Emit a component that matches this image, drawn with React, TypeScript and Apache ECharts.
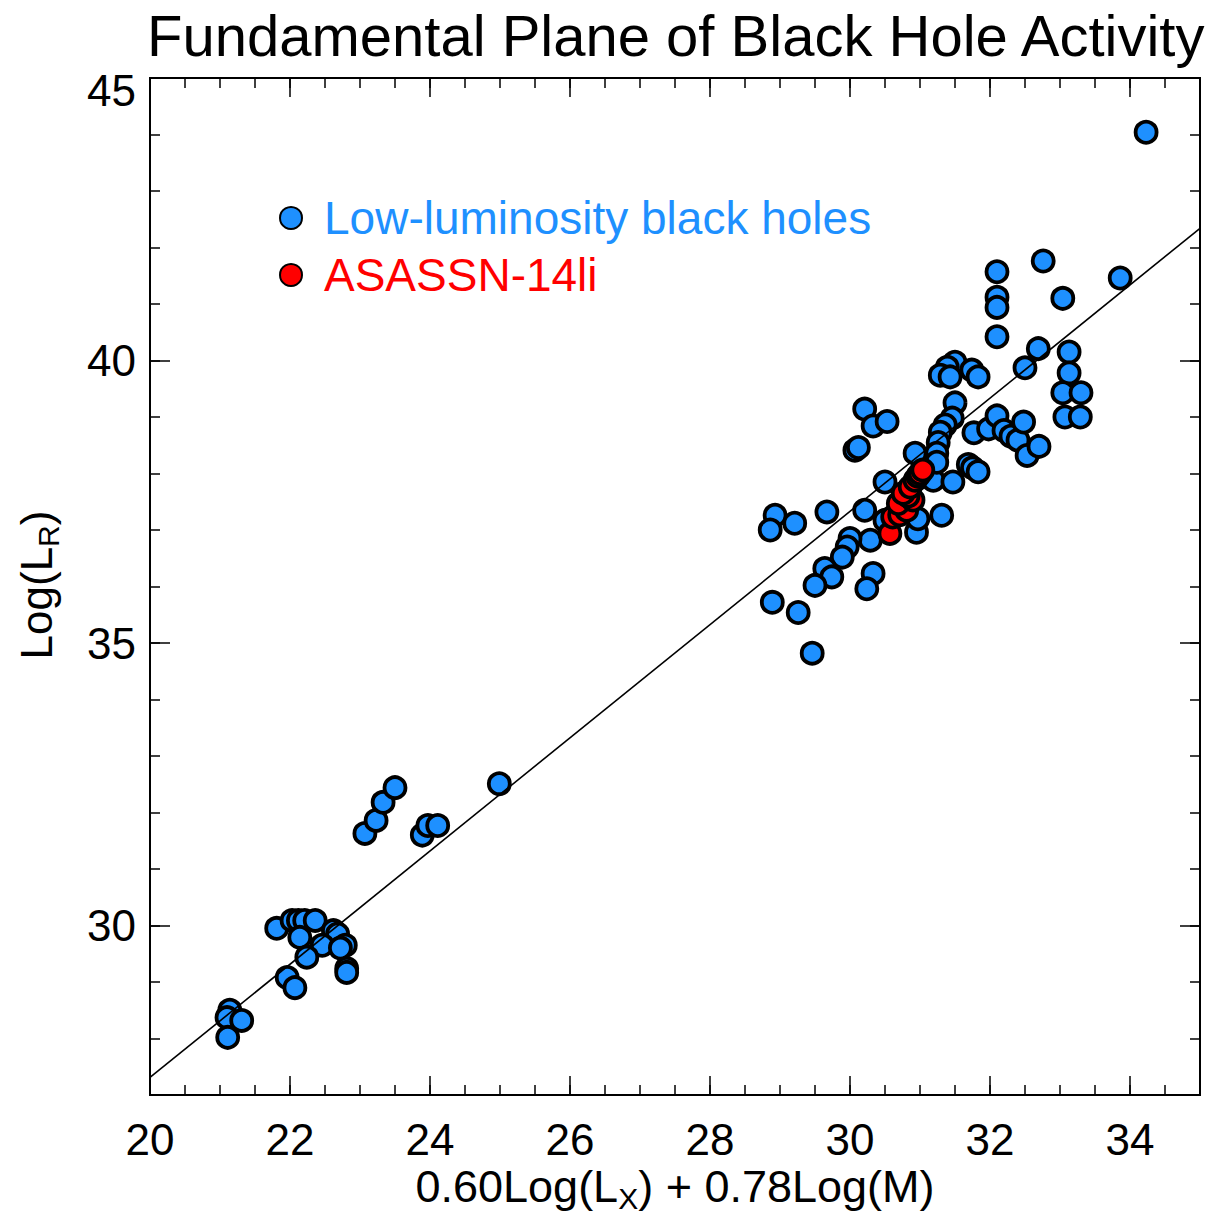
import React, { useEffect, useRef } from "react";
import * as echarts from "echarts";

const FONT = "Liberation Sans, Arial, Helvetica, sans-serif";
const BLUE = "#1E90FF";
const RED = "#FF0000";

const lowLuminosityPoints: number[][] = [
  [21.14, 28.5], [21.1, 28.37], [21.31, 28.32], [21.11, 28.02],
  [21.81, 29.95], [22.03, 30.09], [22.12, 30.09], [22.21, 30.09], [22.36, 30.09],
  [22.14, 29.79], [22.62, 29.91], [22.68, 29.85], [22.46, 29.65], [22.79, 29.65],
  [22.72, 29.6], [22.24, 29.44], [22.81, 29.24], [22.81, 29.17], [21.96, 29.08], [22.07, 28.9],
  [23.07, 31.63], [23.23, 31.86], [23.33, 32.18], [23.5, 32.44],
  [23.89, 31.6], [23.97, 31.77], [24.11, 31.77], [24.99, 32.51],
  [28.93, 37.26], [28.86, 37.0], [29.21, 37.12], [29.67, 37.32], [30.21, 37.35],
  [30.5, 37.17], [30.29, 36.82], [30.0, 36.85], [29.96, 36.7], [29.89, 36.52],
  [29.64, 36.32], [29.74, 36.17], [29.5, 36.02], [30.33, 36.23], [30.24, 35.96],
  [28.89, 35.72], [29.26, 35.54], [29.46, 34.82], [30.95, 36.96], [30.97, 37.2],
  [31.31, 37.26], [30.5, 37.85], [30.93, 38.36], [31.19, 37.88], [31.47, 37.85],
  [31.69, 38.16], [31.75, 38.1], [31.83, 38.03],
  [30.07, 38.41], [30.12, 38.46], [30.21, 39.14], [30.33, 38.84], [30.53, 38.92],
  [31.5, 39.25], [31.46, 38.98], [31.36, 38.86], [31.29, 38.73], [31.26, 38.55],
  [31.24, 38.36], [31.24, 38.2],
  [31.5, 39.97], [31.39, 39.88], [31.29, 39.74], [31.43, 39.71], [31.74, 39.83], [31.83, 39.71],
  [31.77, 38.72], [31.98, 38.79], [32.1, 39.02], [32.2, 38.76], [32.3, 38.66],
  [32.4, 38.59], [32.48, 38.91], [32.53, 38.32], [32.7, 38.48],
  [32.1, 41.57], [32.1, 41.12], [32.1, 40.94], [32.1, 40.42], [32.76, 41.76],
  [33.86, 41.46], [33.04, 41.1], [32.69, 40.21], [32.5, 39.87], [33.13, 40.15],
  [33.13, 39.78], [33.04, 39.43], [33.3, 39.43], [33.07, 39.0], [33.29, 39.0],
  [34.23, 44.04],
];

const asassnPoints: number[][] = [
  [30.57, 36.94], [30.61, 37.23], [30.71, 37.27], [30.81, 37.35], [30.69, 37.47],
  [30.9, 37.53], [30.83, 37.6], [30.76, 37.65], [30.86, 37.76], [30.93, 37.88],
  [30.97, 37.95], [31.0, 38.0], [31.04, 38.06],
];

const fitLine: number[][] = [[20, 27.31], [35, 42.34]];

const xMajorTicks = [20, 22, 24, 26, 28, 30, 32, 34];
const xMinorTicks = [
  20, 20.5, 21, 21.5, 22, 22.5, 23, 23.5, 24, 24.5, 25, 25.5, 26, 26.5, 27, 27.5,
  28, 28.5, 29, 29.5, 30, 30.5, 31, 31.5, 32, 32.5, 33, 33.5, 34, 34.5, 35,
];
const yMajorTicks = [30, 35, 40, 45];
const yMinorTicks = [
  27, 28, 29, 30, 31, 32, 33, 34, 35, 36, 37, 38, 39, 40, 41, 42, 43, 44, 45,
];

const X_MIN = 20, X_MAX = 35, Y_MIN = 27, Y_MAX = 45;

export default function App() {
  const ref = useRef<HTMLDivElement>(null);

  useEffect(() => {
    document.body.style.margin = "0";
    if (!ref.current) return;
    const chart = echarts.init(ref.current, null, { renderer: "svg" });

    const lineStyle = { color: "#000", width: 2 };
    const mkX = (pos: string, ticks: number[], len: number, labels: boolean) => ({
      type: "value",
      position: pos,
      min: X_MIN,
      max: X_MAX,
      axisLine: { show: true, onZero: false, lineStyle },
      axisTick: { show: true, inside: true, length: len, customValues: ticks, lineStyle: { color: "#000", width: 1.5 } },
      axisLabel: labels
        ? { show: true, customValues: ticks, margin: 22, fontSize: 44, color: "#000", fontFamily: FONT }
        : { show: false },
      splitLine: { show: false },
    });
    const mkY = (pos: string, ticks: number[], len: number, labels: boolean) => ({
      type: "value",
      position: pos,
      min: Y_MIN,
      max: Y_MAX,
      axisLine: { show: true, onZero: false, lineStyle },
      axisTick: { show: true, inside: true, length: len, customValues: ticks, lineStyle: { color: "#000", width: 1.5 } },
      axisLabel: labels
        ? {
            show: true,
            customValues: ticks,
            margin: 14,
            fontSize: 44,
            color: "#000",
            fontFamily: FONT,
            formatter: (v: number) => (v === 45 ? "{t|45}" : "{n|" + v + "}"),
            rich: {
              t: { fontSize: 44, fontFamily: FONT, color: "#000", padding: [24, 0, 0, 0] },
              n: { fontSize: 44, fontFamily: FONT, color: "#000" },
            },
          }
        : { show: false },
      splitLine: { show: false },
    });

    const xAxes: any[] = [
      mkX("bottom", xMajorTicks, 19, true),
      mkX("bottom", xMinorTicks, 10, false),
      mkX("top", xMajorTicks, 19, false),
      mkX("top", xMinorTicks, 10, false),
    ];
    const yAxes: any[] = [
      mkY("left", yMajorTicks, 20, true),
      mkY("left", yMinorTicks, 10, false),
      mkY("right", yMajorTicks, 20, false),
      mkY("right", yMinorTicks, 10, false),
    ];

    const subRich = { s: { fontSize: 30, fontFamily: FONT, fill: "#000", padding: [24, 0, 0, 0] } };

    chart.setOption({
      animation: false,
      backgroundColor: "#fff",
      title: {
        text: "Fundamental Plane of Black Hole Activity",
        left: 147,
        top: 6,
        padding: 0,
        textStyle: { fontSize: 58, fontWeight: "normal", color: "#000", fontFamily: FONT },
      },
      legend: {
        orient: "vertical",
        left: 274,
        top: 190,
        itemWidth: 22,
        itemHeight: 22,
        itemGap: 11,
        selectedMode: false,
        icon: "circle",
        textStyle: { fontSize: 46, fontFamily: FONT, lineHeight: 46, padding: [0, 0, 0, 17] },
        data: [
          { name: "Low-luminosity black holes", textStyle: { color: BLUE } },
          { name: "ASASSN-14li", textStyle: { color: RED } },
        ],
      },
      graphic: [
        {
          type: "text",
          x: 675,
          y: 1186,
          style: {
            text: "0.60Log(L{s|X}) + 0.78Log(M)",
            fontSize: 45,
            fontFamily: FONT,
            fill: "#000",
            align: "center",
            verticalAlign: "middle",
            rich: subRich,
          },
        },
        {
          type: "text",
          x: 36,
          y: 585,
          rotation: Math.PI / 2,
          style: {
            text: "Log(L{s|R})",
            fontSize: 44,
            fontFamily: FONT,
            fill: "#000",
            align: "center",
            verticalAlign: "middle",
            rich: subRich,
          },
        },
      ],
      grid: { left: 150, top: 78, width: 1050, height: 1017, containLabel: false, outerBoundsMode: "none" },
      xAxis: xAxes,
      yAxis: yAxes,
      series: [
        {
          name: "Low-luminosity black holes",
          type: "scatter",
          xAxisIndex: 0,
          yAxisIndex: 0,
          symbol: "circle",
          symbolSize: 21,
          z: 2,
          itemStyle: { color: BLUE, borderColor: "#000", borderWidth: 3.8, opacity: 1 },
          data: lowLuminosityPoints,
        },
        {
          name: "fit",
          type: "line",
          xAxisIndex: 0,
          yAxisIndex: 0,
          symbol: "none",
          z: 3,
          lineStyle: { color: "#000", width: 1.6 },
          data: fitLine,
        },
        {
          name: "ASASSN-14li",
          type: "scatter",
          xAxisIndex: 0,
          yAxisIndex: 0,
          symbol: "circle",
          symbolSize: 21,
          z: 4,
          itemStyle: { color: RED, borderColor: "#000", borderWidth: 3.8, opacity: 1 },
          data: asassnPoints,
        },
      ],
    });

    return () => chart.dispose();
  }, []);

  return <div ref={ref} style={{ width: 1209, height: 1214 }} />;
}
